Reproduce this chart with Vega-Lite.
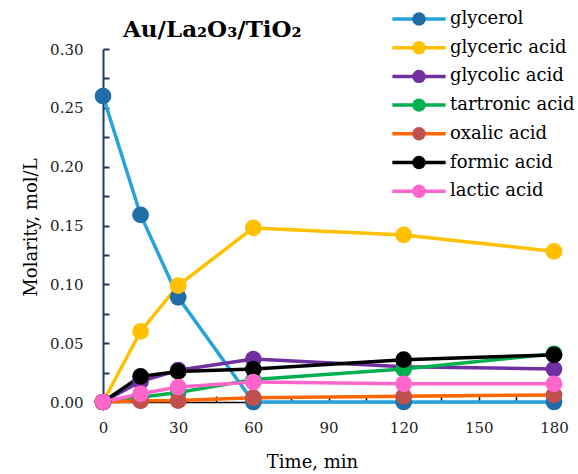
{
  "$schema": "https://vega.github.io/schema/vega-lite/v6.json",
  "width": 451,
  "height": 353,
  "autosize": "none",
  "padding": {"left": 103, "top": 49, "right": 24, "bottom": 72},
  "background": "white",
  "config": {"view": {"stroke": null}, "font": "DejaVu Serif"},
  "title": {
    "text": "Au/La₂O₃/TiO₂",
    "anchor": "start",
    "font": "DejaVu Serif",
    "fontSize": 23,
    "fontWeight": "bold",
    "color": "black",
    "dx": 101,
    "dy": 46,
    "offset": 14
  },
  "data": {
    "values": [
      {"t": 0, "s": "glycerol", "v": 0.26},
      {"t": 15, "s": "glycerol", "v": 0.159},
      {"t": 30, "s": "glycerol", "v": 0.089},
      {"t": 60, "s": "glycerol", "v": 0.0},
      {"t": 120, "s": "glycerol", "v": 0.0},
      {"t": 180, "s": "glycerol", "v": 0.0},
      {"t": 0, "s": "glyceric acid", "v": 0.0},
      {"t": 15, "s": "glyceric acid", "v": 0.06},
      {"t": 30, "s": "glyceric acid", "v": 0.099},
      {"t": 60, "s": "glyceric acid", "v": 0.148},
      {"t": 120, "s": "glyceric acid", "v": 0.142},
      {"t": 180, "s": "glyceric acid", "v": 0.128},
      {"t": 0, "s": "glycolic acid", "v": 0.0},
      {"t": 15, "s": "glycolic acid", "v": 0.0175},
      {"t": 30, "s": "glycolic acid", "v": 0.027},
      {"t": 60, "s": "glycolic acid", "v": 0.0365},
      {"t": 120, "s": "glycolic acid", "v": 0.03},
      {"t": 180, "s": "glycolic acid", "v": 0.028},
      {"t": 0, "s": "tartronic acid", "v": 0.0},
      {"t": 15, "s": "tartronic acid", "v": 0.004},
      {"t": 30, "s": "tartronic acid", "v": 0.008},
      {"t": 60, "s": "tartronic acid", "v": 0.019},
      {"t": 120, "s": "tartronic acid", "v": 0.028},
      {"t": 180, "s": "tartronic acid", "v": 0.041},
      {"t": 0, "s": "oxalic acid", "v": 0.0},
      {"t": 15, "s": "oxalic acid", "v": 0.001},
      {"t": 30, "s": "oxalic acid", "v": 0.0012},
      {"t": 60, "s": "oxalic acid", "v": 0.0037},
      {"t": 120, "s": "oxalic acid", "v": 0.0048},
      {"t": 180, "s": "oxalic acid", "v": 0.006},
      {"t": 0, "s": "formic acid", "v": 0.0},
      {"t": 15, "s": "formic acid", "v": 0.0218},
      {"t": 30, "s": "formic acid", "v": 0.026},
      {"t": 60, "s": "formic acid", "v": 0.028},
      {"t": 120, "s": "formic acid", "v": 0.036},
      {"t": 180, "s": "formic acid", "v": 0.04},
      {"t": 0, "s": "lactic acid", "v": 0.0},
      {"t": 15, "s": "lactic acid", "v": 0.007},
      {"t": 30, "s": "lactic acid", "v": 0.0127},
      {"t": 60, "s": "lactic acid", "v": 0.017},
      {"t": 120, "s": "lactic acid", "v": 0.0155},
      {"t": 180, "s": "lactic acid", "v": 0.0155}
    ]
  },
  "encoding": {
    "x": {
      "field": "t",
      "type": "quantitative",
      "scale": {"domain": [0, 180], "nice": false, "zero": false},
      "axis": {
        "values": [0, 15, 30, 45, 60, 75, 90, 105, 120, 135, 150, 165, 180],
        "labelExpr": "datum.value % 30 == 0 ? datum.label : ''",
        "labelOverlap": false,
        "labelFlush": false,
        "labelFont": "DejaVu Serif",
        "labelFontSize": 15,
        "labelColor": "#222222",
        "labelPadding": 24,
        "tickSize": -6,
        "tickColor": "black",
        "tickWidth": 1.5,
        "domainColor": "black",
        "domainWidth": 1.5,
        "grid": false,
        "title": "Time, min",
        "titleFont": "DejaVu Serif",
        "titleFontSize": 18,
        "titleFontWeight": "normal",
        "titleColor": "black",
        "titleX": 209,
        "titleY": 65,
        "titleBaseline": "alphabetic"
      }
    },
    "y": {
      "field": "v",
      "type": "quantitative",
      "scale": {"domain": [0, 0.3], "nice": false},
      "axis": {
        "values": [0, 0.025, 0.05, 0.075, 0.1, 0.125, 0.15, 0.175, 0.2, 0.225, 0.25, 0.275, 0.3],
        "labelExpr": "round(datum.value*40) % 2 == 0 ? format(datum.value, '.2f') : ''",
        "labelOverlap": false,
        "labelFlush": false,
        "labelFont": "DejaVu Serif",
        "labelFontSize": 15,
        "labelColor": "#222222",
        "labelPadding": 26,
        "tickSize": -6,
        "tickColor": "#1f3a60",
        "tickWidth": 2,
        "domainColor": "#1f3a60",
        "domainWidth": 2,
        "grid": false,
        "title": "Molarity, mol/L",
        "titleFont": "DejaVu Serif",
        "titleFontSize": 18,
        "titleFontWeight": "normal",
        "titleColor": "black",
        "titleX": -72,
        "titleY": 178,
        "titleBaseline": "middle"
      }
    }
  },
  "layer": [
    {
      "mark": {"type": "line", "strokeWidth": 3.5},
      "encoding": {
        "stroke": {
          "field": "s",
          "type": "nominal",
          "sort": null,
          "scale": {
            "domain": ["glycerol", "glyceric acid", "glycolic acid", "tartronic acid", "oxalic acid", "formic acid", "lactic acid"],
            "range": ["#26a3dc", "#ffc000", "#7030a0", "#00b050", "#ff6600", "#000000", "#ff66cc"]
          },
          "legend": {
            "orient": "none",
            "legendX": 307,
            "legendY": -39,
            "title": null,
            "padding": 0,
            "direction": "vertical",
            "symbolType": "M-3.97,0H3.97",
            "symbolSize": 180,
            "symbolStrokeWidth": 3.5,
            "symbolOpacity": 1,
            "labelFont": "DejaVu Serif",
            "labelFontSize": 18,
            "labelOpacity": 0,
            "labelOffset": 22,
            "labelLimit": 300,
            "rowPadding": 10.7
          }
        }
      }
    },
    {
      "mark": {"type": "point", "filled": true, "size": 280, "opacity": 1, "strokeWidth": 0},
      "encoding": {
        "fill": {
          "field": "s",
          "type": "nominal",
          "sort": null,
          "scale": {
            "range": ["#1f6ea8", "#ffc000", "#7030a0", "#00b050", "#c0504d", "#000000", "#ff66cc"]
          },
          "legend": {
            "orient": "none",
            "legendX": 307,
            "legendY": -39,
            "title": null,
            "padding": 0,
            "direction": "vertical",
            "symbolType": "circle",
            "symbolSize": 180,
            "symbolStrokeWidth": 0,
            "symbolOpacity": 1,
            "labelFont": "DejaVu Serif",
            "labelFontSize": 18,
            "labelColor": "black",
            "labelOffset": 22,
            "labelLimit": 300,
            "rowPadding": 10.7
          }
        }
      }
    }
  ]
}
